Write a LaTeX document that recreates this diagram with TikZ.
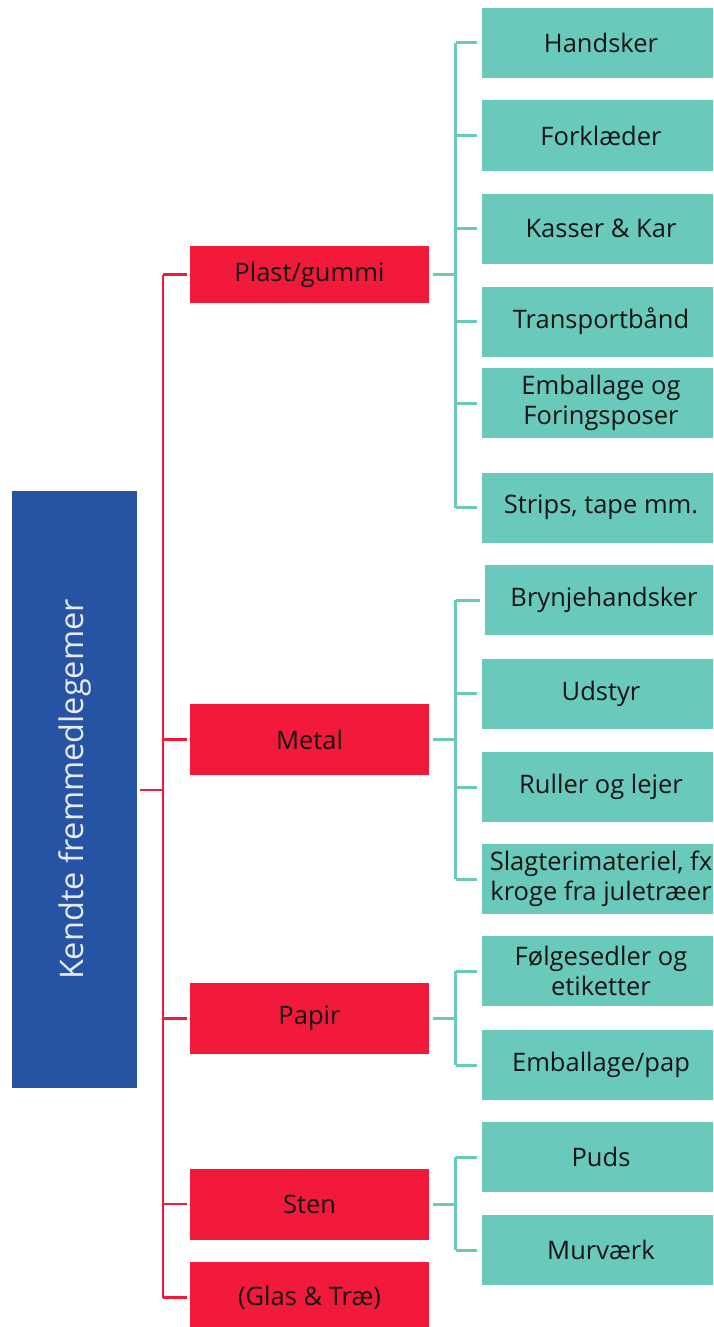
\documentclass[tikz,border=0pt]{standalone}
\usepackage{fontspec}
\setmainfont{Open Sans}
\definecolor{cblue}{HTML}{2653A3}
\definecolor{cred}{HTML}{F11A3A}
\definecolor{cteal}{HTML}{69C9BB}
\definecolor{ctext}{HTML}{141414}
\definecolor{clight}{HTML}{E6EAF2}
\begin{document}
\begin{tikzpicture}[x=1pt,y=-1pt,
  rootbox/.style={fill=cblue, draw=none, minimum width=125pt, minimum height=597pt, inner sep=0pt},
  catbox/.style={fill=cred, draw=none, minimum width=239pt, minimum height=71pt, inner sep=0pt,
    text=ctext, font=\fontsize{25.5}{30}\selectfont, align=center},
  leafbox/.style={fill=cteal, draw=none, minimum width=238pt, minimum height=70pt, inner sep=0pt,
    text=ctext, font=\fontsize{25.5}{30}\selectfont, align=center},
  redline/.style={draw=cred, line width=2.6pt},
  tealline/.style={draw=cteal, line width=3pt}]
\useasboundingbox (0,0) rectangle (713,1327);
\clip (0,0) rectangle (713,1327);

% root
\node[rootbox] (root) at (74.5,789.5) {};
\node[rotate=90, text=clight, font=\fontsize{32.5}{36}\selectfont] (roottxt) at (root.center) {Kendte fremmedlegemer};

% categories
\node[catbox, minimum height=57pt] (plast) at (309.5,274.5) {Plast/gummi};
\node[catbox] (metal) at (309.5,739.5) {Metal};
\node[catbox] (papir) at (309.5,1018.5) {Papir};
\node[catbox] (sten) at (309.5,1204) {Sten};
\node[catbox] (glas) at (309.5,1297.5) {(Glas \& Træ)};

% leaves
\node[leafbox] (l1) at (601,43) {Handsker};
\node[leafbox] (l2) at (601,135.5) {Forklæder};
\node[leafbox] (l3) at (601,228.5) {Kasser \& Kar};
\node[leafbox] (l4) at (601,321.5) {Transportbånd};
\node[leafbox] (l5) at (601,403) {Emballage og\\Foringsposer};
\node[leafbox] (l6) at (601,507.5) {Strips, tape mm.};

\node[leafbox] (m1) at (604,600) {Brynjehandsker};
\node[leafbox] (m2) at (601,693.5) {Udstyr};
\node[leafbox] (m3) at (601,787) {Ruller og lejer};
\node[leafbox] (m4) at (601,879) {Slagterimateriel, fx\\kroge fra juletræer};

\node[leafbox] (p1) at (601,971) {Følgesedler og\\etiketter};
\node[leafbox] (p2) at (601,1065) {Emballage/pap};

\node[leafbox] (s1) at (601,1157) {Puds};
\node[leafbox] (s2) at (601,1250) {Murværk};

% red trunk
\coordinate (trunk) at (163,790);
\draw[redline] ([xshift=3pt]root.east |- trunk) -- (trunk);
\draw[redline] (trunk |- plast.west) -- (trunk |- glas.west);
\foreach \c in {plast,metal,papir,sten,glas}
  \draw[redline] (trunk |- \c.west) -- ([xshift=-3pt]\c.west);

% teal connectors
\coordinate (jp) at (455.5,0);
\draw[tealline] ([xshift=4pt]plast.east) -- (jp |- plast.east);
\draw[tealline] (jp |- l1.west) -- (jp |- l6.west);
\foreach \c in {l1,l2,l3,l4,l5,l6}
  \draw[tealline] (jp |- \c.west) -- ([xshift=-5pt]\c.west);

\draw[tealline] ([xshift=4pt]metal.east) -- (jp |- metal.east);
\draw[tealline] (jp |- m1.west) -- (jp |- m4.west);
\foreach \c in {m1,m2,m3,m4}
  \draw[tealline] (jp |- \c.west) -- ([xshift=-5pt]\c.west);

\draw[tealline] ([xshift=4pt]papir.east) -- (jp |- papir.east);
\draw[tealline] (jp |- p1.west) -- (jp |- p2.west);
\foreach \c in {p1,p2}
  \draw[tealline] (jp |- \c.west) -- ([xshift=-5pt]\c.west);

\draw[tealline] ([xshift=4pt]sten.east) -- (jp |- sten.east);
\draw[tealline] (jp |- s1.west) -- (jp |- s2.west);
\foreach \c in {s1,s2}
  \draw[tealline] (jp |- \c.west) -- ([xshift=-5pt]\c.west);
\end{tikzpicture}
\end{document}
